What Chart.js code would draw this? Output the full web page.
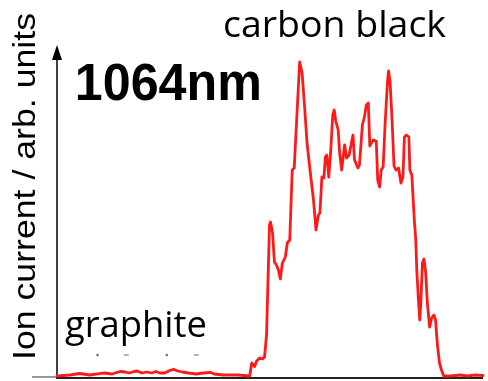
<!DOCTYPE html>
<html lang="en">
<head>
<meta charset="UTF-8">
<title>1064nm ion current</title>
<script src="https://cdn.jsdelivr.net/npm/chart.js@4"></script>
<style>
  html, body { margin: 0; padding: 0; background: #fff; }
  #wrap { width: 488px; height: 381px; }
</style>
</head>
<body>
<div id="wrap"><canvas id="chart" width="488" height="381"></canvas></div>
<script>
// trace: x in channel units, y in arb. units (0 = baseline)
const channel = [
  0, 13, 23, 33, 43, 48, 56, 61, 64, 69, 73, 78, 81, 86, 91, 96, 100, 104, 109, 114,
  118, 122, 127, 133, 141, 148, 155, 159, 168, 183, 195, 197, 200, 202, 205, 208, 210, 212, 215, 216,
  218, 220, 222, 224, 226, 228, 231, 233, 235.5, 236.5, 238, 240, 243, 245.5, 248, 250, 253, 256, 259.5, 262,
  264.5, 266, 268, 270, 271.5, 273, 275, 277, 279, 280.5, 282, 284.5, 286, 288, 291, 293, 295.5, 299.5, 301, 304.5,
  306, 309, 311, 313, 315, 316.5, 318, 320, 323, 324.5, 326.5, 328, 330, 332, 334.5, 335.5, 337, 339, 341, 343,
  345.5, 348, 350, 351.5, 353.5, 356, 357, 359, 361.5, 363, 364, 365.7, 367, 368, 369.7, 371.3, 373, 374.7, 377, 379,
  381.3, 383, 384.7, 387, 389, 391.3, 398, 408, 415, 423, 431
];
const ionCurrent = [
  0, 1, 2.5, 1, 2.3, 3, 2, 3.7, 4.5, 4, 3, 4.5, 5, 3, 4, 3, 4.5, 3, 3, 5.5,
  6.7, 5, 4, 3, 2, 3, 3.7, 2, 1, 1, 0, 13, 9.5, 15, 18, 17, 19, 41, 151, 154,
  144, 114, 111, 106, 97, 113, 119, 133, 136, 164, 206, 208, 266, 314, 303, 276, 233, 206, 176, 146,
  161, 163, 199, 198, 219, 221, 199, 226, 261, 266, 255, 246, 223, 206, 231, 218, 221, 241, 216, 208,
  211, 251, 259, 271, 273, 230, 233, 236, 235, 196, 189, 206, 209, 253, 296, 305, 294, 256, 210, 206,
  208, 193, 199, 239, 241, 239, 206, 201, 156, 136, 106, 76, 56, 71, 113, 117, 104, 73, 49, 58,
  61, 56, 33, 13, 6, 0, 0, 1, 0, 1, 0.5
];
// little grey marks under the graphite label
const markChannel = [41, 70, 111, 141];
const markLevel = [21, 21, 21, 21];

const traceData = channel.map((c, i) => ({ x: c, y: ionCurrent[i] }));
const markData = markChannel.map((c, i) => ({ x: c, y: markLevel[i] }));

// text labels, anchored in data units
const notes = [
  { text: 'carbon black', x: 168, y: 339, font: '36px "Open Sans"', width: 223 },
  { text: '1064nm', x: 18, y: 276, font: 'bold 51px "Liberation Sans"', width: 187 },
  { text: 'graphite', x: 8, y: 39, font: '36px "Open Sans"', width: 142 }
];

function fitText(ctx, str, x, y, w) {
  const m = ctx.measureText(str).width;
  ctx.save();
  ctx.translate(x, y);
  ctx.scale(w / m, 1);
  ctx.fillText(str, 0, 0);
  ctx.restore();
}

const axesPlugin = {
  id: 'axes',
  beforeDatasetsDraw(chart) {
    const { ctx, chartArea: a } = chart;
    ctx.save();
    // grey stub left of the origin
    ctx.strokeStyle = '#9a9a9a';
    ctx.lineWidth = 2;
    ctx.beginPath();
    ctx.moveTo(32, a.bottom + 1);
    ctx.lineTo(a.left, a.bottom + 1);
    ctx.stroke();
    // x axis
    ctx.strokeStyle = '#222';
    ctx.beginPath();
    ctx.moveTo(a.left, a.bottom + 2);
    ctx.lineTo(a.right, a.bottom + 2);
    ctx.stroke();
    // y axis with arrow
    ctx.strokeStyle = '#000';
    ctx.lineWidth = 1.5;
    ctx.beginPath();
    ctx.moveTo(a.left, a.bottom + 3);
    ctx.lineTo(a.left, a.top + 14);
    ctx.stroke();
    ctx.fillStyle = '#000';
    ctx.beginPath();
    ctx.moveTo(a.left, a.top);
    ctx.lineTo(a.left - 5, a.top + 15);
    ctx.lineTo(a.left + 5, a.top + 15);
    ctx.closePath();
    ctx.fill();
    ctx.restore();
  },
  afterDraw(chart) {
    const { ctx, scales } = chart;
    ctx.save();
    ctx.fillStyle = '#000';
    ctx.textBaseline = 'alphabetic';
    ctx.textAlign = 'left';
    notes.forEach(n => {
      ctx.font = n.font;
      fitText(ctx, n.text, scales.x.getPixelForValue(n.x), scales.y.getPixelForValue(n.y), n.width);
    });
    // rotated axis title
    ctx.font = '32px "Liberation Sans"';
    ctx.translate(35, 360);
    ctx.rotate(-Math.PI / 2);
    fitText(ctx, 'Ion current / arb. units', 0, 0, 347);
    ctx.restore();
  }
};

new Chart(document.getElementById('chart'), {
  type: 'line',
  data: {
    datasets: [
      {
        data: traceData,
        borderColor: '#ff1a1a',
        borderWidth: 2.8,
        borderJoinStyle: 'round',
        borderCapStyle: 'round',
        pointRadius: 0,
        tension: 0,
        clip: false
      },
      {
        type: 'scatter',
        data: markData,
        pointStyle: ['rect', 'line', 'rect', 'line'],
        pointRadius: [1, 2.5, 1, 2.5],
        borderColor: '#666',
        backgroundColor: '#666',
        borderWidth: 1
      }
    ]
  },
  options: {
    responsive: false,
    animation: false,
    devicePixelRatio: 1,
    layout: { padding: { left: 57, right: 0, top: 45, bottom: 5 } },
    plugins: { legend: { display: false }, tooltip: { enabled: false } },
    scales: {
      x: { type: 'linear', min: 0, max: 431, display: false },
      y: { min: 0, max: 331, display: false }
    }
  },
  plugins: [axesPlugin]
});
</script>
</body>
</html>
